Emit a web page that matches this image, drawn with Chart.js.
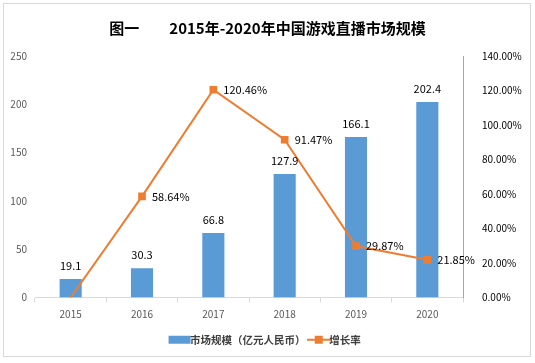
<!DOCTYPE html>
<html>
<head>
<meta charset="utf-8">
<script src="https://cdn.jsdelivr.net/npm/chart.js@4"></script>
<style>
  html, body { margin: 0; padding: 0; background: #fff; }
  #wrap { width: 535px; height: 363px; position: relative; }
</style>
</head>
<body>
<div id="wrap"><canvas id="chart" width="535" height="363"></canvas></div>
<script>
const YEARS = ['2015', '2016', '2017', '2018', '2019', '2020'];
const MARKET = [19.1, 30.3, 66.8, 127.9, 166.1, 202.4]; // 亿元人民币
const GROWTH = [0, 58.64, 120.46, 91.47, 29.87, 21.85]; // %
const GROWTH_LABELS = [null, '58.64%', '120.46%', '91.47%', '29.87%', '21.85%'];

const BLUE = '#5B9BD5';
const ORANGE = '#ED7D31';
const FONT = '"Noto Sans CJK SC", "DejaVu Sans", sans-serif';

// legend swatches drawn once
function swatch(kind){
  const c = document.createElement('canvas');
  c.width = 24; c.height = 10;
  const g = c.getContext('2d');
  if (kind === 'bar'){
    g.fillStyle = BLUE;
    g.fillRect(1, 1, 22, 8);
  } else {
    g.strokeStyle = ORANGE; g.lineWidth = 2;
    g.beginPath(); g.moveTo(0, 5); g.lineTo(24, 5); g.stroke();
    g.fillStyle = ORANGE; g.fillRect(8, 1, 8, 8);
  }
  return c;
}

const labelsPlugin = {
  id: 'valueLabels',
  beforeDraw: (chart) => {
    const {ctx} = chart;
    ctx.save();
    ctx.strokeStyle = '#d9d9d9';
    ctx.lineWidth = 1;
    ctx.strokeRect(3.5, 3.5, 527, 353);
    ctx.restore();
  },
  afterDatasetsDraw: (chart) => {
    const {ctx} = chart;
    ctx.save();
    ctx.font = '11px ' + FONT;
    ctx.fillStyle = '#000';
    ctx.textAlign = 'center';
    ctx.textBaseline = 'bottom';
    chart.getDatasetMeta(0).data.forEach((bar, i) => {
      ctx.fillText(MARKET[i].toFixed(1), bar.x, bar.y - 8);
    });
    ctx.textAlign = 'left';
    ctx.textBaseline = 'middle';
    chart.getDatasetMeta(1).data.forEach((pt, i) => {
      if (GROWTH_LABELS[i]) ctx.fillText(GROWTH_LABELS[i], pt.x + 10, pt.y);
    });
    ctx.restore();
  }
};

const config = {
  data: {
    labels: YEARS,
    datasets: [
      {
        type: 'bar',
        label: '市场规模（亿元人民币）',
        data: MARKET,
        backgroundColor: BLUE,
        yAxisID: 'y',
        categoryPercentage: 0.62,
        barPercentage: 0.5,
        order: 2
      },
      {
        type: 'line',
        label: '增长率',
        data: GROWTH,
        borderColor: ORANGE,
        backgroundColor: ORANGE,
        borderWidth: 2,
        pointStyle: 'rect',
        pointRadius: [0, 4, 4, 4, 4, 4],
        pointHoverRadius: 4,
        tension: 0,
        yAxisID: 'y1',
        order: 1
      }
    ]
  },
  options: {
    responsive: false,
    animation: false,
    layout: { padding: { left: 0, right: 0, top: 0, bottom: 8 } },
    plugins: {
      title: {
        display: true,
        text: '图一　　2015年-2020年中国游戏直播市场规模',
        color: '#000',
        font: { family: FONT, size: 15, weight: 'bold' },
        padding: { top: 19, bottom: 19 }
      },
      legend: {
        position: 'bottom',
        labels: {
          usePointStyle: true,
          color: '#404040',
          font: { family: FONT, size: 10.5, weight: 'bold' },
          padding: 8,
          generateLabels: (chart) => [
            { text: '市场规模（亿元人民币）', pointStyle: swatch('bar'), datasetIndex: 0, lineWidth: 0, fontColor: '#404040' },
            { text: '增长率', pointStyle: swatch('line'), datasetIndex: 1, lineWidth: 0, fontColor: '#404040' }
          ]
        }
      },
      tooltip: { enabled: false }
    },
    scales: {
      x: {
        grid: { display: true, drawOnChartArea: false, offset: true, color: '#d9d9d9', tickLength: 5 },
        border: { color: '#d9d9d9' },
        ticks: { color: '#595959', font: { family: FONT, size: 10 }, padding: 6 }
      },
      y: {
        position: 'left',
        min: 0, max: 250,
        ticks: { stepSize: 50, color: '#595959', font: { family: FONT, size: 10 }, padding: 8 },
        grid: { display: false, drawTicks: false },
        border: { display: false },
        afterFit: (s) => { s.width = 35; }
      },
      y1: {
        position: 'right',
        min: 0, max: 140,
        ticks: {
          stepSize: 20, color: '#000', font: { family: FONT, size: 10 }, padding: 19,
          callback: (v) => v.toFixed(2) + '%'
        },
        grid: { display: false, drawTicks: false },
        border: { display: true, color: '#a6a6a6' },
        afterFit: (s) => { s.width = 72; }
      }
    }
  },
  plugins: [labelsPlugin]
};

const chart = new Chart(document.getElementById('chart'), config);
</script>
</body>
</html>
